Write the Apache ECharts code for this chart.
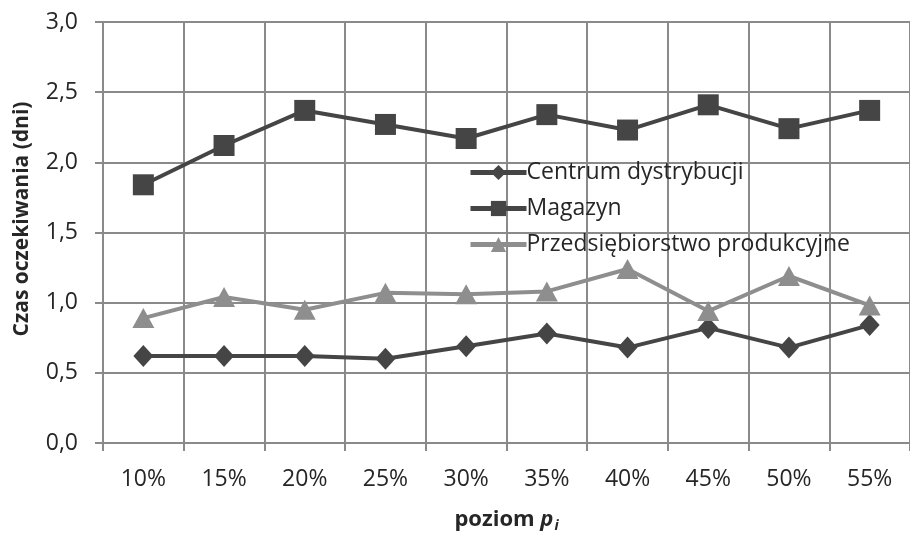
<!DOCTYPE html>
<html>
<head>
<meta charset="utf-8">
<script src="https://cdn.jsdelivr.net/npm/echarts@6/dist/echarts.min.js"></script>
<style>
  html, body { margin: 0; padding: 0; background: #fff; }
  #chart { width: 910px; height: 538px; }
</style>
</head>
<body>
<div id="chart"></div>
<script>
// Categories: poziom p_i
const categories = ['10%', '15%', '20%', '25%', '30%', '35%', '40%', '45%', '50%', '55%'];

// Czas oczekiwania (dni) per location type
const centrum = [0.62, 0.62, 0.62, 0.60, 0.69, 0.78, 0.68, 0.82, 0.68, 0.84];
const magazyn = [1.84, 2.12, 2.37, 2.27, 2.17, 2.34, 2.23, 2.41, 2.24, 2.37];
const przedsiebiorstwo = [0.89, 1.04, 0.95, 1.07, 1.06, 1.08, 1.24, 0.94, 1.19, 0.98];

const seriesNames = ['Centrum dystrybucji', 'Magazyn', 'Przedsiębiorstwo produkcyjne'];

const FONT = '"Open Sans", sans-serif';
const TEXT = '#262626';
const dark = '#454545';
const light = '#8e8e8e';
const gridColor = '#8a8a8a';

const chart = echarts.init(document.getElementById('chart'));
chart.setOption({
  animation: false,
  backgroundColor: '#fff',
  textStyle: { fontFamily: FONT },
  grid: { left: 103, top: 22, width: 813, height: 427 },
  legend: {
    orient: 'vertical',
    left: 463,
    top: 156,
    itemWidth: 56,
    itemHeight: 19,
    itemGap: 13,
    data: seriesNames,
    lineStyle: { width: 5 },
    textStyle: { fontFamily: FONT, fontSize: 23, color: TEXT, padding: [0, 0, 0, -5] }
  },
  xAxis: {
    type: 'category',
    data: categories,
    boundaryGap: true,
    axisLine: { show: true, lineStyle: { color: gridColor, width: 2 } },
    axisTick: { show: true, length: 8, lineStyle: { color: gridColor, width: 2 } },
    splitLine: { show: true, lineStyle: { color: gridColor, width: 2 } },
    axisLabel: { fontFamily: FONT, fontSize: 23, color: TEXT, margin: 25 },
    name: '{b|poziom }{p|p}{s|i}',
    nameLocation: 'middle',
    nameGap: 64,
    nameTextStyle: {
      rich: {
        b: { fontFamily: FONT, fontSize: 22, fontWeight: 'bold', color: TEXT },
        p: { fontFamily: FONT, fontSize: 22, fontWeight: 'bold', fontStyle: 'italic', color: TEXT },
        s: { fontFamily: FONT, fontSize: 14, fontWeight: 'bold', fontStyle: 'italic', color: TEXT, padding: [12, 0, 0, 1] }
      }
    }
  },
  yAxis: {
    type: 'value',
    min: 0,
    max: 3,
    interval: 0.5,
    axisLine: { show: true, lineStyle: { color: gridColor, width: 2 } },
    axisTick: { show: true, length: 8, lineStyle: { color: gridColor, width: 2 } },
    splitLine: { show: true, lineStyle: { color: gridColor, width: 2 } },
    axisLabel: {
      fontFamily: FONT, fontSize: 23, color: TEXT, margin: 25,
      formatter: v => v.toFixed(1).replace('.', ',')
    },
    name: 'Czas oczekiwania (dni)',
    nameLocation: 'middle',
    nameGap: 70,
    nameTextStyle: {
      fontFamily: FONT, fontSize: 21, fontWeight: 'bold', color: TEXT,
      padding: [0, 0, 0, 27]
    }
  },
  series: [
    {
      name: seriesNames[0], type: 'line', data: centrum,
      symbol: 'diamond', symbolSize: [20, 22],
      lineStyle: { color: dark, width: 4 },
      itemStyle: { color: dark }
    },
    {
      name: seriesNames[1], type: 'line', data: magazyn,
      symbol: 'rect', symbolSize: 21,
      lineStyle: { color: dark, width: 4 },
      itemStyle: { color: dark }
    },
    {
      name: seriesNames[2], type: 'line', data: przedsiebiorstwo,
      symbol: 'triangle', symbolSize: [22, 20],
      lineStyle: { color: light, width: 4 },
      itemStyle: { color: light }
    }
  ]
});
</script>
</body>
</html>
